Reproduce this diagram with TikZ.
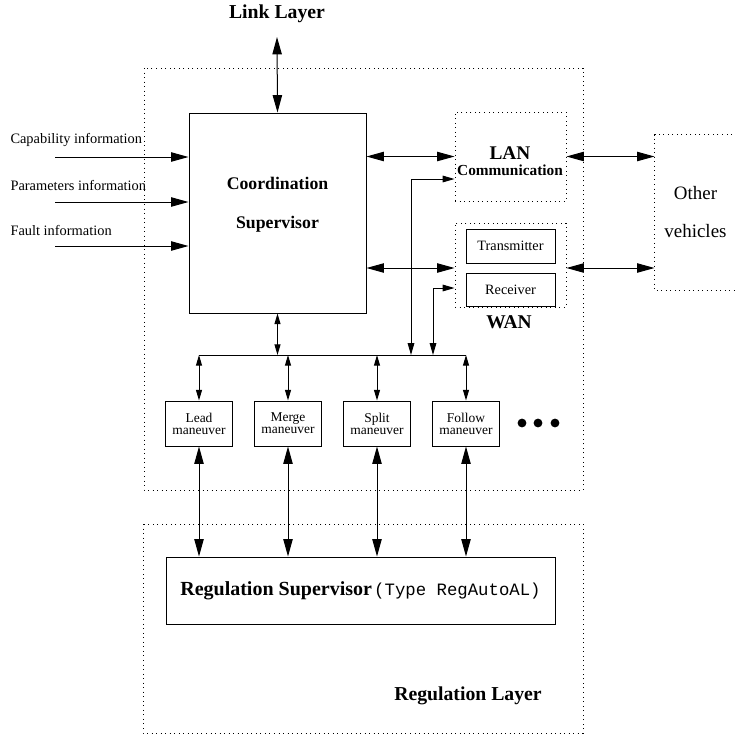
\documentclass[tikz,border=0pt]{standalone}
\usepackage{fontspec}
\setmainfont{Liberation Serif}
\setmonofont{Liberation Mono}
\usetikzlibrary{arrows.meta, positioning, calc}

\begin{document}
\begin{tikzpicture}[x=0.75pt, y=-0.75pt, line width=0.75pt,
  box/.style={draw, inner sep=0pt},
  layer/.style={draw, line width=0.7pt, dash pattern=on 0.7pt off 2.7pt},
  bigarr/.style={{Triangle[length=13pt,width=7pt]}-{Triangle[length=13pt,width=7pt]}},
  inarr/.style={-{Triangle[length=13pt,width=7pt]}},
  midarr/.style={{Triangle[length=9pt,width=5pt]}-{Triangle[length=9pt,width=5pt]}},
  smallarr/.style={{Triangle[length=8pt,width=4.5pt]}-{Triangle[length=8pt,width=4.5pt]}},
  title/.style={font=\fontsize{14.8}{17}\selectfont\bfseries},
  info/.style={font=\fontsize{10.8}{13}\selectfont, anchor=west, inner sep=0pt},
  mbox/.style={box, minimum width=50.25pt, minimum height=33.75pt, align=center,
    font=\fontsize{10.1}{9}\selectfont}
]
\useasboundingbox (0,0) rectangle (736,736);

% layers
\draw[layer] (144,68) rectangle (583,490);
\draw[layer] (143,524) rectangle (583,733);
\node[title] (linklayer) at (277,14) {Link Layer};
\node[title] (reglayer) at (468,696) {Regulation Layer};

% coordination supervisor
\node[box, minimum width=132.75pt, minimum height=150pt] (coord) at (277.5,213) {};
\node[font=\fontsize{13.3}{29}\selectfont\bfseries, align=center] (coordtxt) at (277.5,205) {Coordination\\Supervisor};
\coordinate (lltop) at (277,37);
\draw[bigarr] (lltop) -- (coord.north);

% inputs
\node[info] (cap) at (10,140) {Capability information};
\node[info] (par) at (10,185) {Parameters information};
\node[info] (fault) at (10,230) {Fault information};
\foreach \y/\n in {157/capin, 202/parin, 246/faultin} {
  \coordinate (\n) at (55,\y);
  \draw[inarr] (\n) -- (\n -| coord.west);
}

% LAN and WAN
\node[layer, minimum width=83.25pt, minimum height=66.75pt] (lan) at (510.5,156.5) {};
\node[font=\bfseries, align=center, inner sep=0pt] (lantxt) at (510,161)
  {{\fontsize{14.5}{17.25}\selectfont LAN}\\{\fontsize{11.5}{13}\selectfont Communication}};
\node[layer, minimum width=83.25pt, minimum height=63pt] (wan) at (510.5,265) {};
\node[box, minimum width=66.75pt, minimum height=25.5pt, font=\fontsize{10.7}{12}\selectfont] (tx) at (510.5,246) {Transmitter};
\node[box, minimum width=66.75pt, minimum height=24.75pt, font=\fontsize{10.7}{12}\selectfont] (rx) at (510.5,289.5) {Receiver};
\node[font=\fontsize{14.6}{17}\selectfont\bfseries] (wantxt) at (509,322) {WAN};

% other vehicles
\node[minimum width=60.75pt, minimum height=116.25pt, align=center,
  font=\fontsize{14.2}{28.5}\selectfont] (others) at (695.5,212.5) {Other\\vehicles};
\draw[layer] (others.north east) -- (others.north west) -- (others.south west) -- (others.south east);

\draw[bigarr] (coord.east |- lan.west) -- (lan.west);
\draw[bigarr] (lan.east) -- (others.west |- lan.east);
\draw[bigarr] (coord.east |- 0,268) -- (wan.west |- 0,268);
\draw[bigarr] (wan.east |- 0,268) -- (others.west |- 0,268);

% bus
\coordinate (busL) at (199,355);
\coordinate (busR) at (466,355);
\draw (busL) -- (busR);
\draw[smallarr] (coord.south) -- (coord.south |- busL);
\draw[midarr] (lan.west |- 0,179) -| (411,355);
\draw[midarr] (wan.west |- 0,288) -| (433,355);

% regulation supervisor
\node[box, minimum width=291.75pt, minimum height=50.25pt] (reg) at (360.5,590.5)
  {{\fontsize{15}{18}\selectfont\bfseries Regulation Supervisor}\,{\fontsize{13}{18}\selectfont\ttfamily (Type RegAutoAL)}};

% maneuvers
\foreach \n/\x/\t in {lead/199/Lead, merge/288/Merge, split/377/Split, follow/466/Follow} {
  \node[mbox] (\n) at (\x,423.5) {\t\\maneuver};
  \draw[smallarr] (\n.north |- busL) -- (\n.north);
  \draw[bigarr] (\n.south) -- (\n.south |- reg.north);
}
\foreach \x in {522,538,555}
  \fill (\x,423) circle (3.3pt);
\end{tikzpicture}
\end{document}
